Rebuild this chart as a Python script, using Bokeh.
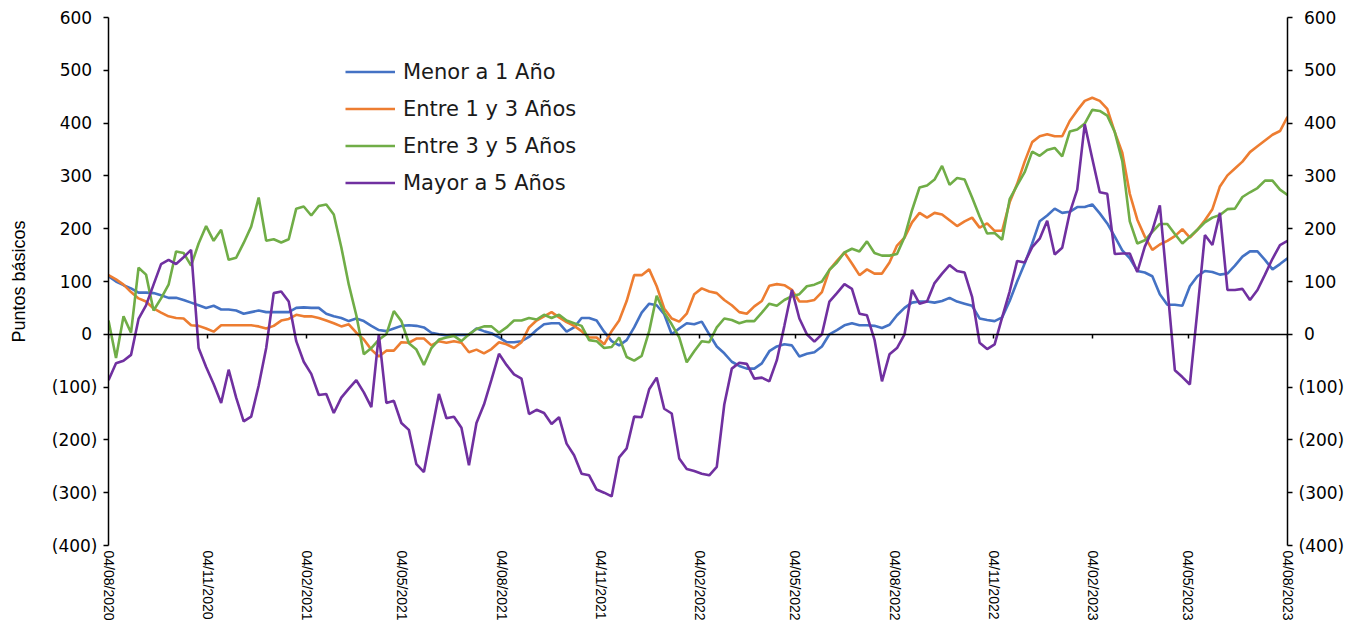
import pandas as pd
from bokeh.plotting import figure
from bokeh.models import (FixedTicker, DatetimeAxis, LinearAxis, Range1d,
                          CustomJSTickFormatter, DatetimeTickFormatter, Legend,
                          LegendItem)
from bokeh.embed import file_html
from bokeh.resources import INLINE

# ---------------- data ----------------
start_date = "2020-08-04"
end_date = "2023-08-04"

menor_1 = [110, 100, 93, 87, 79, 79, 78, 74, 69, 69, 65, 60, 55, 50, 54, 47, 47, 45, 39, 42,
           45, 42, 42, 42, 42, 50, 51, 50, 50, 39, 34, 31, 25, 30, 25, 16, 8, 6, 11, 16,
           17, 16, 13, 3, 0, -2, -1, -1, -1, 11, 6, 2, -6, -15, -15, -13, -5, 8, 19, 21,
           21, 5, 13, 31, 31, 26, 5, -13, -21, -11, 13, 41, 58, 55, 38, 0, 11, 21, 19, 24,
           0, -23, -36, -52, -60, -65, -65, -55, -32, -23, -19, -21, -42, -37, -34, -23, 0, 8, 17, 21,
           17, 17, 16, 12, 18, 36, 50, 60, 62, 62, 60, 63, 69, 62, 58, 54, 30, 27, 25, 32,
           63, 100, 134, 172, 214, 225, 238, 230, 232, 241, 241, 246, 229, 210, 185, 159, 144, 120, 117, 110,
           76, 56, 56, 54, 91, 110, 120, 118, 113, 115, 130, 147, 157, 157, 141, 123, 133, 144]

entre_1_3 = [112, 104, 94, 80, 68, 62, 49, 41, 34, 31, 30, 17, 16, 11, 5, 17, 17, 17, 17, 17,
             15, 11, 16, 26, 29, 37, 34, 34, 31, 26, 21, 15, 19, 3, -10, -29, -42, -31, -31, -15,
             -16, -8, -8, -21, -13, -16, -13, -16, -34, -29, -36, -28, -15, -19, -26, -15, 13, 26, 34, 42,
             32, 23, 16, 6, -6, -6, -19, 6, 26, 63, 112, 112, 123, 91, 49, 30, 24, 39, 76, 87,
             81, 78, 65, 55, 42, 39, 53, 63, 92, 95, 93, 84, 62, 62, 65, 80, 122, 139, 155, 134,
             112, 123, 115, 115, 136, 168, 183, 212, 230, 221, 230, 227, 216, 205, 214, 221, 202, 210, 196, 196,
             250, 285, 327, 364, 375, 379, 375, 375, 404, 424, 442, 448, 442, 427, 383, 344, 266, 217, 185, 160,
             170, 177, 186, 199, 183, 198, 216, 237, 280, 301, 314, 327, 345, 356, 367, 378, 385, 412]

entre_3_5 = [26, -45, 34, 3, 126, 113, 45, 68, 94, 157, 154, 130, 172, 205, 177, 198, 141, 145, 173, 204,
             259, 177, 180, 174, 180, 238, 242, 225, 243, 246, 227, 165, 94, 36, -38, -26, -10, 0, 44, 25,
             -17, -29, -58, -26, -10, -6, -3, -13, 0, 10, 15, 15, 3, 13, 26, 26, 31, 28, 37, 31,
             37, 26, 21, 16, -11, -13, -26, -24, -6, -43, -50, -41, 6, 73, 41, 19, -6, -53, -32, -13,
             -15, 13, 30, 27, 21, 25, 25, 41, 58, 54, 65, 72, 76, 91, 94, 100, 122, 136, 155, 162,
             157, 176, 154, 149, 149, 152, 184, 235, 278, 282, 293, 319, 283, 296, 293, 259, 223, 191, 192, 179,
             256, 282, 307, 346, 338, 349, 353, 337, 384, 388, 399, 425, 423, 414, 383, 328, 214, 172, 178, 194,
             209, 209, 190, 172, 185, 198, 212, 221, 226, 237, 238, 260, 269, 277, 291, 291, 274, 264]

mayor_5 = [-87, -55, -50, -39, 29, 55, 94, 133, 141, 133, 146, 160, -26, -62, -94, -130, -67, -120, -165, -156,
           -97, -26, 78, 81, 62, -13, -52, -75, -115, -113, -149, -120, -103, -87, -110, -138, 0, -130, -126, -168,
           -181, -246, -261, -187, -113, -159, -156, -177, -248, -168, -133, -86, -37, -58, -76, -84, -151, -143, -149, -170,
           -157, -207, -229, -264, -267, -294, -300, -307, -233, -216, -156, -157, -104, -82, -141, -150, -235, -255, -259, -264,
           -267, -251, -133, -65, -54, -56, -84, -82, -89, -49, 16, 84, 30, 0, -14, 0, 62, 78, 95, 86,
           39, 36, -10, -89, -38, -26, 0, 84, 58, 62, 97, 115, 131, 120, 117, 71, -16, -28, -19, 32,
           81, 139, 136, 165, 181, 215, 151, 164, 230, 274, 398, 333, 269, 266, 152, 153, 153, 118, 166, 197,
           244, 90, -68, -81, -95, 45, 188, 169, 230, 84, 84, 86, 65, 84, 113, 143, 169, 177]

series_names = ["Menor a 1 Año", "Entre 1 y 3 Años", "Entre 3 y 5 Años", "Mayor a 5 Años"]
tick_dates = ["2020-08-04", "2020-11-04", "2021-02-04", "2021-05-04", "2021-08-04",
              "2021-11-04", "2022-02-04", "2022-05-04", "2022-08-04", "2022-11-04",
              "2023-02-04", "2023-05-04", "2023-08-04"]
y_ticks = list(range(-400, 601, 100))
y_label = "Puntos básicos"

# ---------------- figure ----------------
dates = pd.date_range(start_date, end_date, periods=len(menor_1))
colors = ["#4472C4", "#ED7D31", "#70AD47", "#7030A0"]

p = figure(width=1354, height=623, x_axis_type="datetime",
           x_range=Range1d(dates[0], dates[-1]), y_range=Range1d(-400, 600),
           output_backend="svg", toolbar_location=None,
           min_border_left=108, min_border_right=67, min_border_top=17, min_border_bottom=75)
p.outline_line_color = None
p.xgrid.visible = False
p.ygrid.visible = False
p.background_fill_color = "white"

tick_ms = [pd.Timestamp(d).value / 1e6 for d in tick_dates]
x_ticker = FixedTicker(ticks=tick_ms)
dfmt = "%d/%m/%Y"
x_formatter = DatetimeTickFormatter(milliseconds=dfmt, seconds=dfmt, minsec=dfmt, minutes=dfmt,
                                    hourmin=dfmt, hours=dfmt, days=dfmt, months=dfmt, years=dfmt)

# bottom labeled axis (labels only)
xa = p.xaxis[0]
xa.ticker = x_ticker
xa.formatter = x_formatter
xa.major_label_orientation = "vertical"
xa.axis_line_color = None
xa.major_tick_line_color = None
xa.minor_tick_line_color = None
xa.major_tick_out = 0
xa.major_tick_in = 0
xa.minor_tick_out = 0
xa.major_label_standoff = 5
xa.major_label_text_font = "Liberation Sans"
xa.major_label_text_font_size = "14px"
xa.major_label_text_color = "#000000"

# horizontal axis drawn at zero, small ticks pointing down
zero_axis = DatetimeAxis(fixed_location=0, ticker=x_ticker, formatter=x_formatter,
                         major_label_text_font_size="0px", major_label_text_alpha=0,
                         major_tick_out=0, major_tick_in=4, minor_tick_line_color=None,
                         minor_tick_out=0, minor_tick_in=0,
                         axis_line_color="black", axis_line_width=1.5,
                         major_tick_line_color="black", major_tick_line_width=1.5,
                         major_label_standoff=0)
p.add_layout(zero_axis, "above")

y_ticker = FixedTicker(ticks=y_ticks)
y_fmt = CustomJSTickFormatter(code="""
    return tick < 0 ? '(' + Math.abs(tick) + ')' : '\\u00a0' + tick + '\\u00a0';
""")

ya = p.yaxis[0]
ya.ticker = y_ticker
ya.formatter = y_fmt
ya.minor_tick_line_color = None
ya.major_tick_out = 5
ya.major_tick_in = 0
ya.axis_line_width = 1.5
ya.major_tick_line_width = 1.5
ya.major_label_text_font = "DejaVu Sans"
ya.major_label_text_font_size = "17px"
ya.major_label_text_color = "#000000"
ya.major_label_standoff = 6
ya.axis_label = y_label
ya.axis_label_text_font = "Liberation Sans"
ya.axis_label_text_font_size = "18px"
ya.axis_label_text_font_style = "normal"
ya.axis_label_text_color = "#000000"
ya.axis_label_standoff = 20

ra = LinearAxis(ticker=y_ticker, formatter=y_fmt, minor_tick_line_color=None,
                major_tick_out=5, major_tick_in=0, axis_line_width=1.5,
                major_tick_line_width=1.5, major_label_text_font="DejaVu Sans",
                major_label_text_font_size="17px", major_label_text_color="#000000",
                major_label_standoff=6)
p.add_layout(ra, "right")

all_series = [menor_1, entre_1_3, entre_3_5, mayor_5]
renderers = []
for vals, c in zip(all_series, colors):
    r = p.line(dates, vals, line_color=c, line_width=2.6)
    renderers.append(r)

legend = Legend(items=[LegendItem(label=n, renderers=[r]) for n, r in zip(series_names, renderers)],
                location=(237, 350), orientation="vertical",
                glyph_width=50, glyph_height=25, label_height=25, label_standoff=8,
                spacing=12, padding=0, margin=0,
                background_fill_alpha=0, border_line_color=None,
                label_text_font="DejaVu Sans", label_text_font_size="21px",
                label_text_color="#1a1a1a")
p.add_layout(legend)

open("out.html", "w").write(file_html(p, INLINE))
